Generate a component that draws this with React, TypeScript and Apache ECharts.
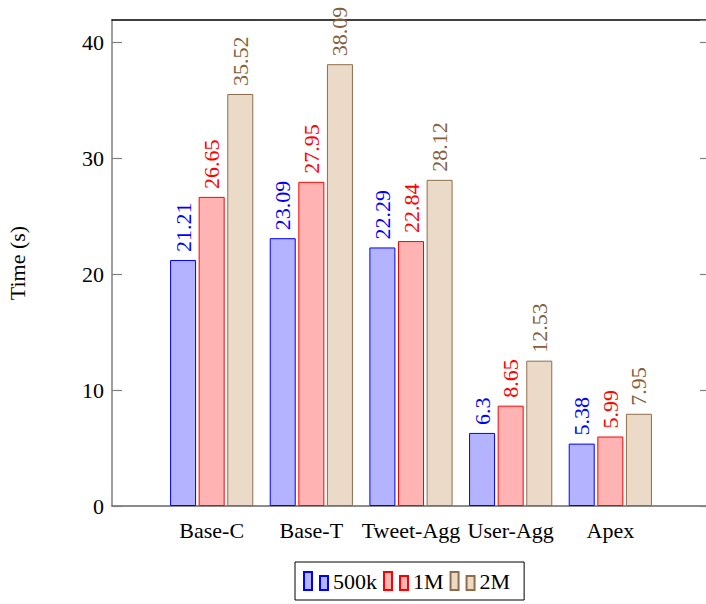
import React, { useEffect, useRef } from "react";
import * as echarts from "echarts";

const categories = ["Base-C", "Base-T", "Tweet-Agg", "User-Agg", "Apex"];
const seriesNames = ["500k", "1M", "2M"];
const values500k = [21.21, 23.09, 22.29, 6.3, 5.38];
const values1M = [26.65, 27.95, 22.84, 8.65, 5.99];
const values2M = [35.52, 38.09, 28.12, 12.53, 7.95];
const yTicks = [0, 10, 20, 30, 40];

const FONT = "'Liberation Serif', 'Times New Roman', serif";
const FS = 22;

export default function App() {
  const ref = useRef<HTMLDivElement>(null);
  useEffect(() => {
    if (!ref.current) return;
    const chart = echarts.init(ref.current, undefined, { renderer: "svg" });
    const padded = ["", ...categories, ""];
    const pad = (arr: number[]) => [null, ...arr, null];
    const styles = [
      { fill: "#b3b3ff", stroke: "#0000ff", text: "#0000ff" },
      { fill: "#ffb3b3", stroke: "#ff0000", text: "#ff0000" },
      { fill: "#ebdac7", stroke: "#8f6d4c", text: "#85603c" },
    ];
    const all = [values500k, values1M, values2M];
    const legendIcon = "path://M0,0h8v18h-8z M16,4h8v14h-8z";
    chart.setOption({
      animation: false,
      textStyle: { fontFamily: FONT },
      grid: { left: 112, right: 10, top: 20, bottom: 98, outerBoundsMode: "none" },
      legend: {
        left: 295,
        top: 562,
        data: seriesNames,
        icon: legendIcon,
        itemWidth: 24,
        itemHeight: 18,
        itemGap: 6,
        padding: [8, 14, 8, 8],
        borderColor: "#000",
        borderWidth: 1,
        borderRadius: 0,
        textStyle: { fontFamily: FONT, fontSize: FS, color: "#000" },
      },
      xAxis: [
        {
          type: "category",
          data: padded,
          boundaryGap: false,
          axisLine: { show: true, onZero: false, lineStyle: { color: "#666", width: 1.5 } },
          axisTick: { show: false },
          axisLabel: { interval: 0, margin: 13, fontFamily: FONT, fontSize: FS, color: "#000" },
          splitLine: { show: false },
        },
        {
          type: "category",
          data: padded,
          boundaryGap: false,
          position: "top",
          axisLine: { show: true, onZero: false, lineStyle: { color: "#000", width: 1.5 } },
          axisTick: { show: false },
          axisLabel: { show: false },
          splitLine: { show: false },
        },
      ],
      yAxis: [
        {
          type: "value",
          min: 0,
          max: 41.9,
          interval: 10,
          name: "Time (s)",
          nameLocation: "middle",
          nameGap: 84,
          nameTextStyle: { fontFamily: FONT, fontSize: FS, color: "#000" },
          axisLine: { show: true, onZero: false, lineStyle: { color: "#808080", width: 1.5 } },
          axisTick: { show: true, inside: true, length: 10, lineStyle: { color: "#808080", width: 1.2 } },
          axisLabel: {
            margin: 8,
            fontFamily: FONT,
            fontSize: FS,
            color: "#000",
            showMaxLabel: false,
            formatter: (v: number) => (yTicks.includes(v) ? String(v) : ""),
          },
          splitLine: { show: false },
        },
        {
          type: "value",
          min: 0,
          max: 41.9,
          interval: 10,
          position: "right",
          axisLine: { show: false, onZero: false },
          axisTick: { show: true, inside: true, length: 10, lineStyle: { color: "#808080", width: 1.2 } },
          axisLabel: { show: false },
          splitLine: { show: false },
        },
      ],
      series: all.map((vals, i) => ({
        name: seriesNames[i],
        type: "bar",
        xAxisIndex: 0,
        yAxisIndex: 0,
        data: pad(vals),
        barWidth: 26,
        barGap: "10%",
        itemStyle: { color: styles[i].fill, borderColor: styles[i].stroke, borderWidth: 1 },
        label: {
          show: true,
          position: "top",
          rotate: 90,
          align: "left",
          verticalAlign: "middle",
          distance: 8,
          fontFamily: FONT,
          fontSize: FS,
          color: styles[i].text,
          formatter: (p: any) => String(p.value),
        },
      })),
    });
    return () => chart.dispose();
  }, []);
  return (
    <div style={{ position: "fixed", left: 0, top: 0, width: 706, height: 604, overflow: "hidden", background: "#fff" }}>
      <div ref={ref} style={{ width: 720, height: 604 }} />
    </div>
  );
}
